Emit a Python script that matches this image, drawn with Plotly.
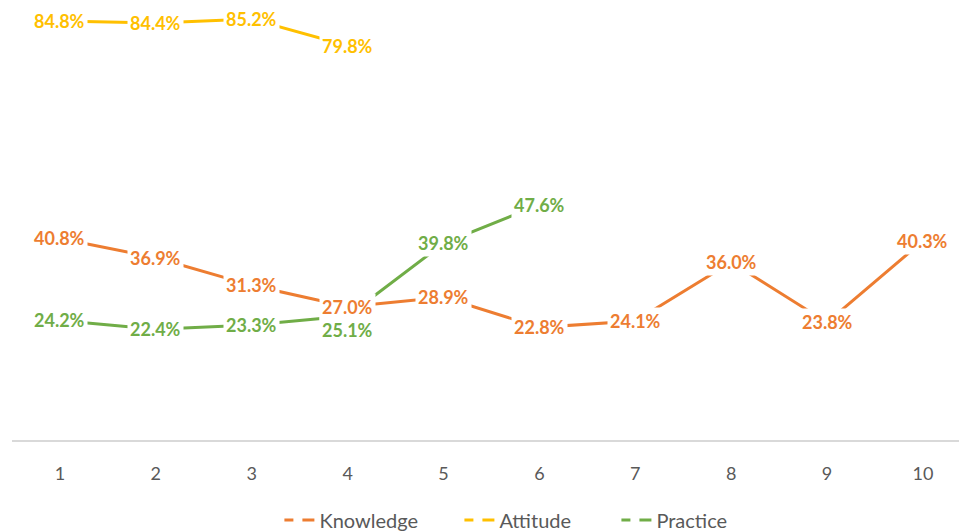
import plotly.graph_objects as go

categories = [1, 2, 3, 4, 5, 6, 7, 8, 9, 10]
knowledge = [40.8, 36.9, 31.3, 27.0, 28.9, 22.8, 24.1, 36.0, 23.8, 40.3]
attitude = [84.8, 84.4, 85.2, 79.8]
practice = [24.2, 22.4, 23.3, 25.1, 39.8, 47.6]

series = [
    ("Knowledge", knowledge, "#ED7D31", "legend", 0.28),
    ("Attitude", attitude, "#FFC000", "legend2", 0.4685),
    ("Practice", practice, "#70AD47", "legend3", 0.6329),
]
# label offsets (pixels) for specific points
label_shift = {("Practice", 3): -14}

FONT = "Lato"
fig = go.Figure()
annotations = []
legends = {}
for name, vals, color, leg, legx in series:
    xs = categories[: len(vals)]
    ys = [v / 100 for v in vals]
    fig.add_trace(go.Scatter(x=xs, y=ys, mode="lines", name=name,
                             line=dict(color=color, width=3),
                             showlegend=False, cliponaxis=False))
    # legend-only trace with dashed symbol
    fig.add_trace(go.Scatter(x=[None], y=[None], mode="lines", name=name,
                             legend=leg,
                             line=dict(color=color, width=3, dash="9px,9px,12px")))
    legends[leg] = dict(orientation="h", x=legx, xanchor="left",
                        y=-0.185, yanchor="middle",
                        font=dict(family=FONT, size=20, color="#595959"),
                        itemwidth=30, bgcolor="rgba(0,0,0,0)")
    for i, (x, y) in enumerate(zip(xs, ys)):
        annotations.append(dict(
            x=x, y=y, xref="x", yref="y", text=f"{y*100:.1f}%",
            showarrow=False, bgcolor="white", borderpad=2,
            yshift=label_shift.get((name, i), 0),
            font=dict(family=FONT, size=18, color=color, weight="bold"),
        ))

fig.update_layout(
    width=959, height=524,
    margin=dict(l=4, r=0, t=0, b=92, autoexpand=False),
    paper_bgcolor="white", plot_bgcolor="white",
    annotations=annotations,
    xaxis=dict(range=[0.5, 10.459], tickvals=categories,
               ticktext=[str(c) for c in categories],
               showgrid=False, zeroline=False, showline=True,
               linecolor="#D9D9D9", linewidth=1.5, ticks="",
               ticklabelstandoff=17,
               tickfont=dict(family=FONT, size=18, color="#595959")),
    yaxis=dict(range=[0, 0.8745], visible=False, showgrid=False, zeroline=False),
    showlegend=True,
    **legends,
)

fig.write_html("out.html")
